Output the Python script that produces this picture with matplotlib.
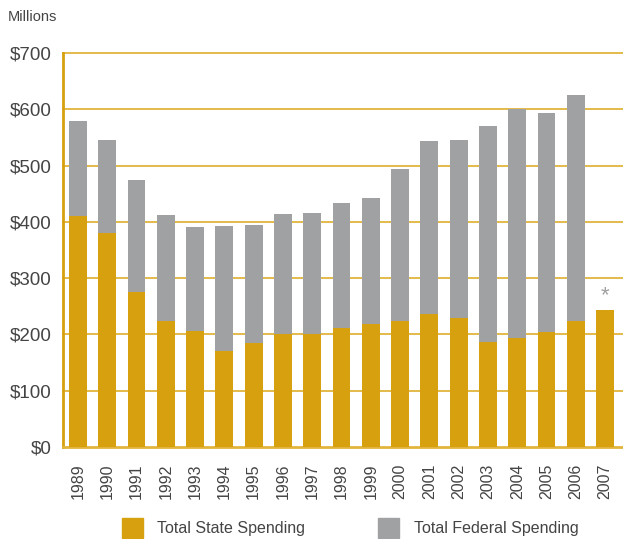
import matplotlib
matplotlib.use("Agg")
import matplotlib.pyplot as plt
from matplotlib.patches import Patch

# Spending by year, in millions of dollars
years = [str(y) for y in range(1989, 2008)]
state = [411, 380, 276, 224, 206, 171, 184, 201, 201, 212,
         219, 223, 237, 230, 187, 194, 205, 224, 243]
total = [579, 545, 474, 412, 391, 393, 394, 414, 416, 433,
         442, 494, 544, 545, 570, 600, 593, 625, None]
federal = [t - s if t is not None else 0 for t, s in zip(total, state)]
y_ticks = [0, 100, 200, 300, 400, 500, 600, 700]
y_labels = ["$" + str(v) for v in y_ticks]

GOLD = "#D6A00F"
GRID = "#E2B43C"
GRAY = "#A0A1A3"
TEXT = "#444444"

plt.rcParams['font.family'] = ['Liberation Sans Narrow', 'Liberation Sans', 'DejaVu Sans']

fig = plt.figure(figsize=(6.23, 5.39), dpi=100)
ax = fig.add_axes([63/623, (539-447)/539, 560/623, 394/539])

x = range(len(years))
ax.bar(x, state, width=0.61, color=GOLD, zorder=3)
ax.bar(x, federal, width=0.61, bottom=state, color=GRAY, zorder=3)

# asterisk over 2007 (no federal figure)
ax.text(len(years) - 1, 268, "*", ha="center", va="center",
        fontsize=16, color=GRAY)

ax.set_ylim(0, 700)
ax.set_xlim(-0.51, len(years) - 1 + 0.61)
ax.set_yticks(y_ticks)
ax.set_yticklabels(y_labels, fontsize=13.5, color=TEXT)
ax.set_xticks(list(x))
ax.set_xticklabels(years, rotation=90, fontsize=11.5, color=TEXT)
ax.tick_params(axis="both", length=0)
ax.tick_params(axis="y", pad=8)
ax.tick_params(axis="x", pad=12)

for v in y_ticks[1:]:
    ax.axhline(v, color=GRID, lw=1.3, zorder=1, clip_on=False)

for side in ["top", "right"]:
    ax.spines[side].set_visible(False)
ax.spines["left"].set_color(GOLD)
ax.spines["left"].set_linewidth(2)
ax.spines["bottom"].set_color(GRID)
ax.spines["bottom"].set_linewidth(2)

fig.text(8/623, 1 - 17/539, "Millions", fontsize=10.5, color=TEXT, va="center")

handles = [Patch(color=GOLD, label="Total State Spending"),
           Patch(color=GRAY, label="Total Federal Spending")]
leg = fig.legend(handles=handles, loc="center", ncol=2,
                 bbox_to_anchor=(350/623, 11/539), frameon=False,
                 fontsize=11.5, handlelength=1.3, handleheight=1.6,
                 handletextpad=0.9, columnspacing=4.6)
for t in leg.get_texts():
    t.set_color(TEXT)

fig.savefig("out.png", dpi=100)
